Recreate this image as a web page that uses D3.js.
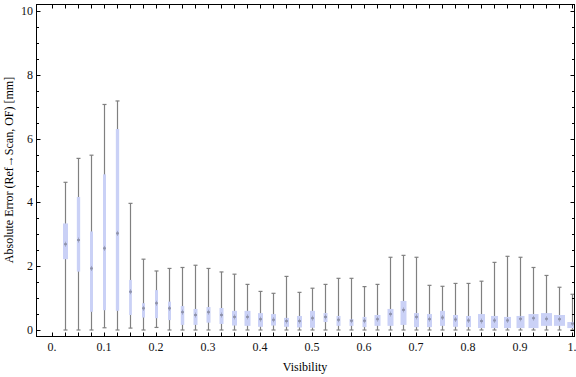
<!DOCTYPE html>
<html><head><meta charset="utf-8">
<script src="https://cdn.jsdelivr.net/npm/d3@7"></script>
<style>body{margin:0;background:#fff}svg{display:block}text{font-family:"Liberation Serif","Times New Roman",serif}</style>
</head><body>
<svg id="c" width="576" height="377"></svg>
<script>
const visibility = [0.025,0.05,0.075,0.1,0.125,0.15,0.175,0.2,0.225,0.25,0.275,0.3,0.325,0.35,0.375,0.4,0.425,0.45,0.475,0.5,0.525,0.55,0.575,0.6,0.625,0.65,0.675,0.7,0.725,0.75,0.775,0.8,0.825,0.85,0.875,0.9,0.925,0.95,0.975,1.0];
const whiskerHigh = [4.63,5.38,5.48,7.07,7.18,3.97,2.22,1.85,1.93,1.96,2.03,1.93,1.82,1.75,1.43,1.21,1.15,1.68,1.18,1.31,1.43,1.62,1.62,1.36,1.43,2.28,2.34,2.28,1.40,1.37,1.46,1.46,1.53,2.12,2.31,2.28,1.96,1.71,1.34,1.12];
const q3 = [3.34,4.17,3.09,4.88,6.30,1.57,0.84,1.25,0.89,0.75,0.66,0.72,0.69,0.60,0.60,0.53,0.50,0.38,0.44,0.60,0.53,0.44,0.34,0.41,0.47,0.66,0.91,0.53,0.50,0.60,0.47,0.44,0.50,0.44,0.41,0.44,0.50,0.53,0.47,0.25];
const median = [2.69,2.82,1.93,2.56,3.03,1.20,0.68,0.84,0.68,0.56,0.47,0.56,0.47,0.41,0.41,0.34,0.32,0.28,0.28,0.37,0.41,0.32,0.29,0.29,0.34,0.50,0.63,0.41,0.34,0.39,0.33,0.30,0.28,0.30,0.30,0.35,0.37,0.35,0.34,0.20];
const q1 = [2.22,1.83,0.57,0.62,0.60,0.47,0.39,0.37,0.31,0.16,0.16,0.23,0.19,0.14,0.13,0.10,0.14,0.10,0.08,0.07,0.25,0.13,0.13,0.09,0.13,0.13,0.16,0.09,0.09,0.13,0.10,0.09,0.06,0.06,0.06,0.06,0.06,0.13,0.13,0.06];
const whiskerLow = [0,0,0,0.07,0,0.06,0,0.08,0,0,0,0,0,0,0,0,0,0,0,0,0,0,0,0,0,0,0,0,0,0,0,0,0,0,0,0,0,0,0,0];
// box width in visibility units (varies per bin)
const boxWidth = [0.0096,0.0064,0.0058,0.0058,0.0064,0.0052,0.0058,0.0058,0.0058,0.0067,0.0077,0.0077,0.0077,0.0096,0.0115,0.0096,0.0096,0.0096,0.0096,0.0096,0.0077,0.0077,0.0077,0.0077,0.0115,0.0115,0.0115,0.0096,0.0096,0.0096,0.0096,0.0096,0.0135,0.0135,0.0135,0.0154,0.0192,0.0212,0.0212,0.0200];
const xTickLabels = ["0.","0.1","0.2","0.3","0.4","0.5","0.6","0.7","0.8","0.9","1."];
const xTickValues = [0,0.1,0.2,0.3,0.4,0.5,0.6,0.7,0.8,0.9,1.0];
const yTickValues = [0,2,4,6,8,10];
const xLabel = "Visibility";
const yLabel = "Absolute Error (Ref\u2192Scan, OF) [mm]";

const data = visibility.map((v,i)=>({v, lo:whiskerLow[i], q1:q1[i], med:median[i], q3:q3[i], hi:whiskerHigh[i], w:boxWidth[i]}));

const svg = d3.select("#c");
const frame = {l:36, r:575, t:4, b:337};
const x = d3.scaleLinear().domain([0,1]).range([52,572]);
const y = d3.scaleLinear().domain([0,10]).range([330,11]);

const defs = svg.append("defs");
defs.append("clipPath").attr("id","clip").append("rect")
  .attr("x",frame.l).attr("y",frame.t).attr("width",frame.r-frame.l).attr("height",frame.b-frame.t);
const blur = defs.append("filter").attr("id","bl").attr("x","-2").attr("y","-2").attr("width","5").attr("height","5");
blur.append("feGaussianBlur").attr("stdDeviation",0.7);

const g = svg.append("g").attr("clip-path","url(#clip)");
const wc = "#808080";
const boxes = g.selectAll("g.b").data(data).join("g").attr("class","b");
boxes.append("line").attr("x1",d=>x(d.v)+0.5).attr("x2",d=>x(d.v)+0.5)
  .attr("y1",d=>y(d.lo)).attr("y2",d=>y(d.hi)).attr("stroke",wc).attr("stroke-width",1.2);
boxes.append("line").attr("x1",d=>x(d.v)-1.5).attr("x2",d=>x(d.v)+2.5)
  .attr("y1",d=>y(d.hi)).attr("y2",d=>y(d.hi)).attr("stroke",wc).attr("stroke-width",1.2);
boxes.append("line").attr("x1",d=>x(d.v)-1.5).attr("x2",d=>x(d.v)+2.5)
  .attr("y1",d=>y(d.lo)).attr("y2",d=>y(d.lo)).attr("stroke",wc).attr("stroke-width",1.2);
boxes.append("rect").attr("x",d=>x(d.v-d.w/2)+0.5).attr("width",d=>x(d.v+d.w/2)-x(d.v-d.w/2))
  .attr("y",d=>y(d.q3)).attr("height",d=>y(d.q1)-y(d.q3)).attr("fill","#cad1f6");
boxes.append("rect").attr("x",d=>x(d.v)-1).attr("width",3)
  .attr("y",d=>y(d.med)-1).attr("height",2).attr("fill","#8a8ea6").attr("filter","url(#bl)").attr("opacity",0.85);
boxes.append("rect").attr("x",d=>x(d.v)).attr("width",1)
  .attr("y",d=>y(d.med)-2.5).attr("height",5).attr("fill","#8a8ea6").attr("filter","url(#bl)").attr("opacity",0.6);

// frame
svg.append("rect").attr("x",frame.l+0.5).attr("y",frame.t+0.5).attr("width",frame.r-frame.l-1).attr("height",frame.b-frame.t-1)
  .attr("fill","none").attr("stroke","#000").attr("stroke-width",1);

// ticks
const xt = d3.range(0,41).map(i=>i*0.025);
const yt = d3.range(0,21).map(i=>i*0.5);
const tk = svg.append("g").attr("stroke","#000").attr("stroke-width",1);
xt.forEach(v=>{
  const px = Math.round(x(v))+0.5;
  tk.append("line").attr("x1",px).attr("x2",px).attr("y1",frame.b).attr("y2",frame.b-4.5);
  tk.append("line").attr("x1",px).attr("x2",px).attr("y1",frame.t).attr("y2",frame.t+4.5);
});
yt.forEach(v=>{
  const py = Math.round(y(v))+0.5;
  const len = (v%2===0)?4.5:3;
  tk.append("line").attr("x1",frame.l).attr("x2",frame.l+len).attr("y1",py).attr("y2",py);
  tk.append("line").attr("x1",frame.r).attr("x2",frame.r-len).attr("y1",py).attr("y2",py);
});

// labels
svg.append("g").selectAll("text").data(xTickValues).join("text")
  .attr("x",d=>x(d)).attr("y",351).attr("text-anchor","middle").attr("font-size",12).attr("fill","#111")
  .text((d,i)=>xTickLabels[i]);
svg.append("g").selectAll("text").data(yTickValues).join("text")
  .attr("x",33).attr("y",d=>y(d)+4).attr("text-anchor","end").attr("font-size",12).attr("fill","#111")
  .text(d=>d);
svg.append("text").attr("x",305).attr("y",371).attr("text-anchor","middle").attr("font-size",12).text(xLabel);
svg.append("text").attr("transform","translate(13,170) rotate(-90)").attr("text-anchor","middle").attr("font-size",12).text(yLabel);
</script>
</body></html>
